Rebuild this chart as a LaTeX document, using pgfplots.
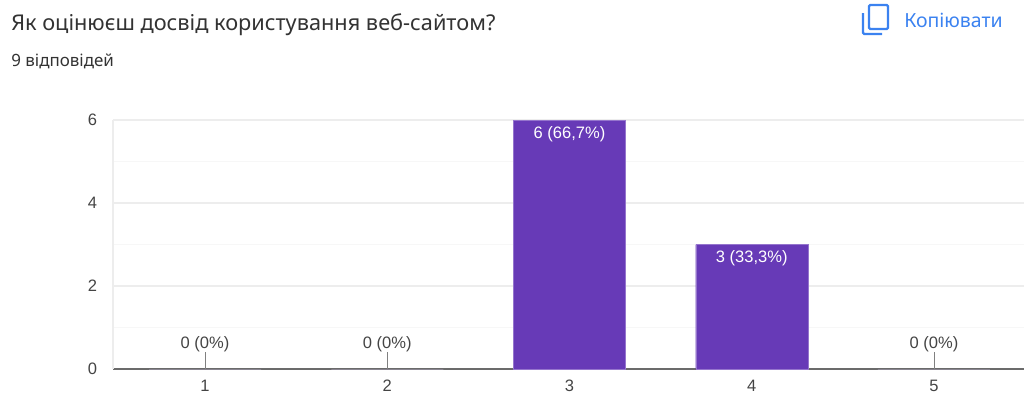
\documentclass[border=0pt]{standalone}
\usepackage{pgfplots}
\pgfplotsset{compat=1.18}
\usepackage{fontspec}
\setmainfont{Liberation Sans}
\newfontfamily\headfont{Noto Sans}
\definecolor{barpurple}{HTML}{673AB7}
\definecolor{actionblue}{HTML}{3B82F0}
\definecolor{labelgray}{HTML}{444444}
\definecolor{headgray}{HTML}{333333}
\begin{document}
\begin{tikzpicture}[x=0.75pt,y=0.75pt]
\path[use as bounding box] (0,0) rectangle (1024,394);
\begin{axis}[
  name=chart,
  at={(84.75pt,18.75pt)}, anchor=south west,
  scale only axis, width=683.25pt, height=186.75pt,
  xmin=0.495, xmax=5.494, ymin=0, ymax=6,
  axis x line=bottom, axis y line=left,
  x axis line style={-, draw=black!58, line width=1.3pt},
  y axis line style={-, draw=black!7, line width=0.9pt},
  xtick={1,2,3,4,5}, ytick={0,2,4,6}, minor ytick={1,3,5},
  major tick length=0pt, minor tick length=0pt,
  ymajorgrids, yminorgrids,
  major grid style={draw=black!7, line width=0.9pt},
  minor grid style={draw=black!3, line width=0.7pt},
  /pgf/number format/assume math mode=true,
  tick label style={font=\fontsize{12.4}{14}\selectfont, text=labelgray},
  xticklabel style={yshift=-5pt},
  yticklabel style={xshift=-8.5pt},
  clip=false,
]
% Empty categories
\addplot[ybar, bar shift=0pt, bar width=84pt, draw=barpurple!30!black!45, line width=0.6pt, fill=none]
  coordinates {(1,0) (2,0) (5,0)};
% Answered categories
\addplot[ybar, bar shift=0pt, bar width=84pt, draw=barpurple!70!white, line width=0.2pt, fill=barpurple,
  point meta=explicit symbolic,
  nodes near coords,
  every node near coord/.style={anchor=north, text=white, inner sep=0pt, yshift=-4.5pt, font=\fontsize{12.4}{14}\selectfont}]
  coordinates {(3,6) [6 (66,7\%)] (4,3) [3 (33,3\%)]};
% Leader lines with the labels of the empty categories
\addplot[ycomb, draw=black!50, line width=0.6pt, no markers,
  point meta=explicit symbolic,
  nodes near coords,
  every node near coord/.style={anchor=south, text=labelgray, inner sep=0pt, yshift=-0.3pt, font=\fontsize{12.4}{14}\selectfont}]
  coordinates {(1,0.41) [0 (0\%)] (2,0.41) [0 (0\%)] (5,0.41) [0 (0\%)]};
\end{axis}
\node[anchor=west, inner sep=0pt, text=headgray, font=\headfont\fontsize{16.3}{19}\selectfont] at (11,369.5) {Як оцінюєш досвід користування веб-сайтом?};
\node[anchor=west, inner sep=0pt, text=headgray, font=\headfont\fontsize{12.7}{15}\selectfont] at (11,333) {9 відповідей};
\node[anchor=west, inner sep=0pt, text=actionblue, font=\headfont\fontsize{14.6}{17}\selectfont] at (904,373.5) {Копіювати};
% Copy icon
\draw[actionblue, line width=1.7pt, rounded corners=1pt] (869,389) rectangle (888,365);
\draw[actionblue, line width=1.7pt, rounded corners=1pt] (863,381) -- (863,360) -- (882,360);
\end{tikzpicture}
\end{document}
